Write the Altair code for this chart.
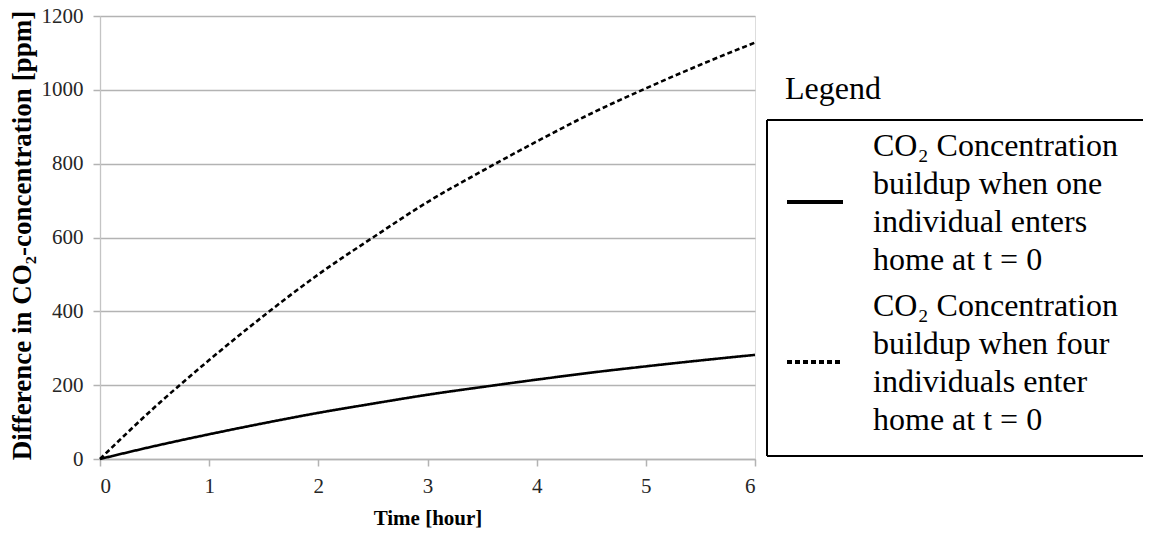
import altair as alt
import pandas as pd

# ---- data ----
hours = [0, 0.5, 1, 1.5, 2, 2.5, 3, 3.5, 4, 4.5, 5, 5.5, 6]
one_person = [0, 35, 67, 97, 125, 150, 174, 195, 215, 234, 251, 267, 282]
four_people = [0, 140, 268, 388, 500, 600, 696, 780, 860, 936, 1004, 1068, 1128]
series_labels = [
    "CO₂ Concentration|buildup when one|individual enters|home at t = 0",
    "CO₂ Concentration|buildup when four|individuals enter|home at t = 0",
]
y_ticks = [0, 200, 400, 600, 800, 1000, 1200]
x_ticks = [0, 1, 2, 3, 4, 5, 6]
x_title = "Time [hour]"
y_title = "Difference in CO₂-concentration [ppm]"
legend_title = "Legend"

rows = []
for t, v in zip(hours, one_person):
    rows.append({"t": t, "v": v, "s": series_labels[0]})
for t, v in zip(hours, four_people):
    rows.append({"t": t, "v": v, "s": series_labels[1]})
df = pd.DataFrame(rows)

SERIF = "Liberation Serif"
GRID = "#b3b3b3"

lines = alt.Chart(df).mark_line(
    color="black", strokeWidth=2.6, interpolate="monotone"
).encode(
    x=alt.X(
        "t:Q",
        scale=alt.Scale(domain=[0, 6], nice=False),
        axis=alt.Axis(
            values=x_ticks, title=x_title, grid=False, format="d",
            domainColor=GRID, domainWidth=1.5,
            tickColor=GRID, tickSize=7, tickWidth=1.5,
            labelFont=SERIF, labelFontSize=21, labelColor="#262626", labelPadding=9,
            titleFont=SERIF, titleFontSize=21, titleFontWeight="bold", titleColor="black",
            titleY=65, titleBaseline="alphabetic",
        ),
    ),
    y=alt.Y(
        "v:Q",
        scale=alt.Scale(domain=[0, 1200], nice=False),
        axis=alt.Axis(
            values=y_ticks, title=y_title, grid=True, format="d",
            gridColor=GRID, gridWidth=1.5,
            domainColor="#c4c4c4", domainWidth=1.3,
            tickColor=GRID, tickSize=7, tickWidth=1.5,
            labelFont=SERIF, labelFontSize=21, labelColor="#262626", labelPadding=10,
            titleFont=SERIF, titleFontSize=27, titleFontWeight="bold", titleColor="black",
            titleX=-78, titleY=219, titleBaseline="middle", titleAlign="center",
        ),
    ),
    strokeDash=alt.StrokeDash(
        "s:N",
        scale=alt.Scale(domain=series_labels, range=[[1, 0], [5, 3]]),
        legend=alt.Legend(
            orient="none", legendX=685, legendY=58, padding=0,
            title=legend_title, titleFont=SERIF, titleFontSize=32,
            titleFontWeight="normal", titleColor="black", titlePadding=10,
            labelFont=SERIF, labelFontSize=32, labelColor="black",
            labelLimit=600, labelOffset=28,
            labelExpr="split(datum.label, '|')",
            symbolType="M-1,2L1,2", symbolSize=3136, symbolStrokeWidth=4,
            symbolStrokeColor="black", rowPadding=0,
        ),
    ),
)

frame = pd.DataFrame({"k": [0]})
box_style = dict(color="black", strokeWidth=2)
box_top = alt.Chart(frame).mark_rule(**box_style).encode(
    x=alt.value(667), x2=alt.value(1046), y=alt.value(104)
)
box_bottom = alt.Chart(frame).mark_rule(**box_style).encode(
    x=alt.value(667), x2=alt.value(1046), y=alt.value(440)
)
box_left = alt.Chart(frame).mark_rule(**box_style).encode(
    x=alt.value(667), y=alt.value(104), y2=alt.value(440)
)
# the box runs on past the right edge of the picture: hide its right end
edge_cover = alt.Chart(frame).mark_rule(color="white", strokeWidth=8).encode(
    x=alt.value(1047), y=alt.value(100), y2=alt.value(444)
)

chart = alt.layer(box_top, box_bottom, box_left, lines, edge_cover).properties(
    width=655,
    height=443,
    padding={"left": 92, "top": 8, "right": 391, "bottom": 71},
    autosize=alt.AutoSizeParams(type="none"),
    background="white",
).configure_view(stroke=None).configure(
    style={"guide-label": {"lineHeight": 38}}
)

chart.save("out.html", embed_options={"renderer": "svg", "actions": False})
